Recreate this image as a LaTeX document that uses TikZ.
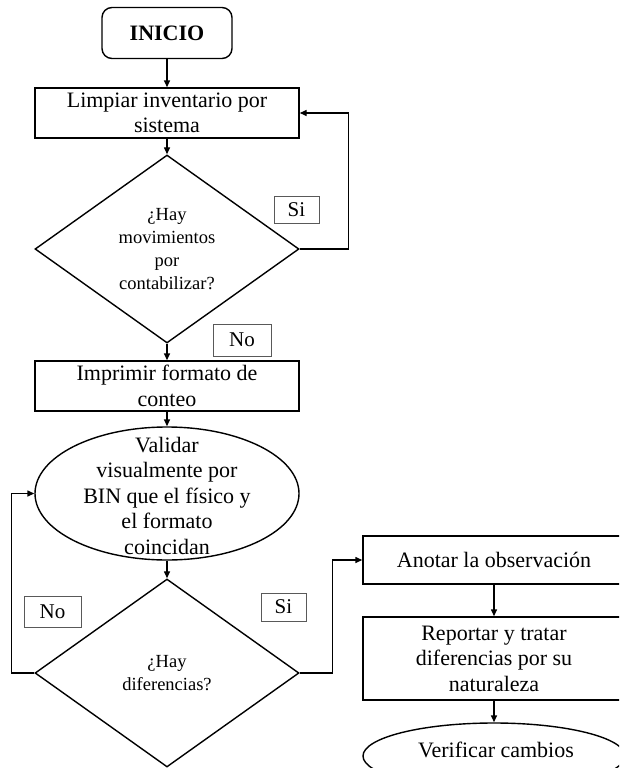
\documentclass[tikz,border=0pt]{standalone}
\usepackage{fontspec}
\setmainfont{Liberation Serif}
\usetikzlibrary{shapes.geometric,arrows.meta}
\begin{document}
\begin{tikzpicture}[x=1pt,y=-1pt,
  every node/.style={inner sep=0pt, align=center, font=\fontsize{22}{25.5}\selectfont},
  proc/.style={draw, line width=1.4pt, minimum width=264pt, minimum height=50pt},
  sideproc/.style={draw, line width=1.4pt, minimum width=262pt},
  startbox/.style={draw, line width=1.4pt, rounded corners=10pt, minimum width=130pt, minimum height=51pt, font=\fontsize{22}{25.5}\selectfont\bfseries},
  decision/.style={draw, diamond, line width=1.4pt, shape aspect=1.4, minimum width=264pt, minimum height=188pt, font=\fontsize{18.5}{23}\selectfont},
  oval/.style={draw, ellipse, line width=1.4pt},
  tag/.style={draw=black!65, line width=0.8pt, font=\fontsize{21}{24}\selectfont},
  arr/.style={line width=1.4pt, -{Triangle[length=7pt,width=6pt]}}
]
\useasboundingbox (0,0) rectangle (619,768);
\clip (0,0) rectangle (619,768);

% main column
\node[startbox] (inicio) at (167,33) {INICIO};
\node[proc] (limpiar) at (167,113) {Limpiar inventario por\\sistema};
\node[decision] (d1) at (167,249) {¿Hay\\movimientos\\por\\contabilizar?};
\node[proc] (imprimir) at (167,386) {Imprimir formato de\\conteo};
\node[oval, minimum width=264pt, minimum height=133pt] (valid) at (167,493.5) {};
\node (validtxt) at (167,495.5) {Validar\\visualmente por\\BIN que el físico y\\el formato\\coincidan};
\node[decision] (d2) at (167,673) {¿Hay\\diferencias?};

% right column
\node[sideproc, minimum height=48pt] (anotar) at (494,560) {Anotar la observación};
\node[sideproc, minimum height=83pt] (reportar) at (494,658.5) {Reportar y tratar\\diferencias por su\\naturaleza};
\node[oval, minimum width=262pt, minimum height=66pt] (verif) at (494,756) {};
\node (veriftxt) at (496,750) {Verificar cambios};

% branch labels
\node[tag, minimum width=45pt, minimum height=27pt] (si1) at (296.5,209.5) {Si};
\node[tag, minimum width=58pt, minimum height=32pt] (no1) at (242,340) {No};
\node[tag, minimum width=57pt, minimum height=31pt] (no2) at (52.5,611.5) {No};
\node[tag, minimum width=45pt, minimum height=28pt] (si2) at (283.5,607) {Si};

% connectors
\draw[arr] (inicio) -- (limpiar);
\draw[arr] (limpiar) -- (d1);
\draw[arr] (d1.east) -- ++(49,0) |- (limpiar.east);
\draw[arr] (d1) -- (imprimir);
\draw[arr] (imprimir) -- (valid);
\draw[arr] (valid) -- (d2);
\draw[arr] (d2.west) -- ++(-23,0) |- (valid.west);
\draw[arr] (d2.east) -- ++(33,0) |- (anotar.west);
\draw[arr] (anotar) -- (reportar);
\draw[arr] (reportar) -- (verif);
\end{tikzpicture}
\end{document}
